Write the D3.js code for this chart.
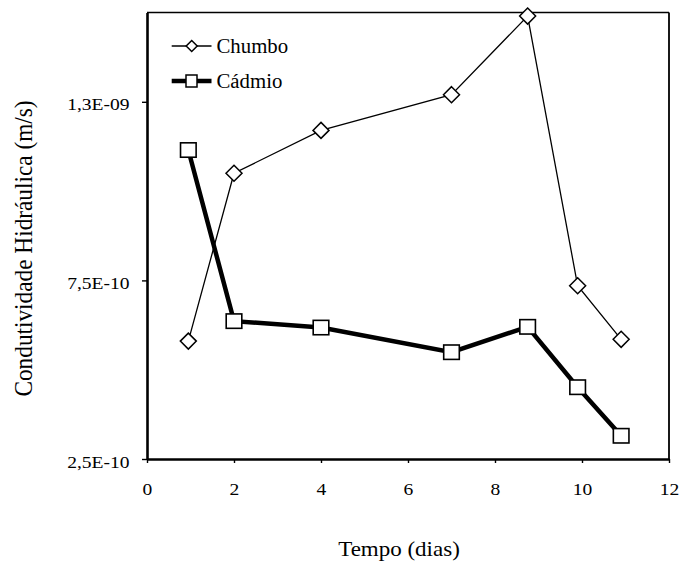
<!DOCTYPE html>
<html>
<head>
<meta charset="utf-8">
<script src="https://cdn.jsdelivr.net/npm/d3@7"></script>
<style>
  html, body { margin: 0; padding: 0; background: #fff; }
  svg { display: block; }
</style>
</head>
<body>
<svg id="chart" width="680" height="561"></svg>
<script>
// Tempo (dias) em que cada medição foi feita
const days = [0.95, 2, 4, 7, 8.75, 9.9, 10.9];
// Condutividade hidráulica (m/s)
const chumbo = [5.8e-10, 1.05e-9, 1.17e-9, 1.27e-9, 1.49e-9, 7.35e-10, 5.85e-10];
const cadmio = [1.115e-9, 6.36e-10, 6.18e-10, 5.49e-10, 6.2e-10, 4.51e-10, 3.15e-10];
const seriesNames = ["Chumbo", "Cádmio"];

const xTicks = [0, 2, 4, 6, 8, 10, 12];
const yTicks = [2.5e-10, 7.5e-10, 1.25e-9];
const yTickLabels = ["2,5E-10", "7,5E-10", "1,3E-09"];

const FONT = '"Liberation Serif", "Times New Roman", serif';
const svg = d3.select("#chart");
const plotLeft = 147, plotRight = 669, plotTop = 12.5, plotBottom = 459;
const sx = 1.15; // horizontal stretch of the lettering

const x = d3.scaleLinear().domain([0, 12]).range([plotLeft, plotRight]);
const y = d3.scaleLinear().domain([2.5e-10, 1.5e-9]).range([plotBottom, plotTop]);

function styleText(sel, size) {
  return sel.style("font-family", FONT).style("font-size", size + "px").style("fill", "#000");
}

// frame: thin top/right, heavy left/bottom
svg.append("line").attr("x1", plotLeft).attr("x2", plotRight).attr("y1", plotTop).attr("y2", plotTop)
  .attr("stroke", "#000").attr("stroke-width", 1.6);
svg.append("line").attr("x1", plotRight).attr("x2", plotRight).attr("y1", plotTop).attr("y2", plotBottom)
  .attr("stroke", "#000").attr("stroke-width", 1.8);

// y axis
const yAxis = svg.append("g").attr("transform", `translate(${plotLeft},0)`)
  .call(d3.axisLeft(y).tickValues(yTicks).tickSize(5).tickSizeOuter(0)
    .tickFormat((d, i) => yTickLabels[i]));
yAxis.select(".domain").attr("stroke-width", 2.6);
yAxis.selectAll(".tick line").attr("stroke-width", 1.4);
styleText(yAxis.selectAll(".tick text"), 17)
  .attr("x", null).attr("dy", null)
  .attr("text-anchor", "end")
  .attr("transform", `translate(-17.5,8) scale(${sx},1)`);

// x axis
const xAxis = svg.append("g").attr("transform", `translate(0,${plotBottom})`)
  .call(d3.axisBottom(x).tickValues(xTicks).tickSize(4).tickSizeOuter(0));
xAxis.select(".domain").attr("stroke-width", 2.6);
xAxis.selectAll(".tick line").attr("stroke-width", 1.4);
styleText(xAxis.selectAll(".tick text"), 17)
  .attr("y", null).attr("dy", null)
  .attr("text-anchor", "middle")
  .attr("transform", `translate(0,36) scale(${sx},1)`);

// axis titles
styleText(svg.append("text"), 20)
  .attr("transform", `translate(399,556) scale(${sx},1)`)
  .attr("text-anchor", "middle")
  .text("Tempo (dias)");
styleText(svg.append("text"), 23.3)
  .attr("transform", `translate(31.5,248.5) scale(1.12,1) rotate(-90)`)
  .attr("text-anchor", "middle")
  .text("Condutividade Hidráulica (m/s)");

const line = d3.line().x(d => x(d[0])).y(d => y(d[1]));
const chumboPts = days.map((d, i) => [d, chumbo[i]]);
const cadmioPts = days.map((d, i) => [d, cadmio[i]]);

// Chumbo: thin line with diamonds
svg.append("path").datum(chumboPts).attr("d", line)
  .attr("fill", "none").attr("stroke", "#000").attr("stroke-width", 1.3);
// Cádmio: heavy line with squares
svg.append("path").datum(cadmioPts).attr("d", line)
  .attr("fill", "none").attr("stroke", "#000").attr("stroke-width", 4.5)
  .attr("stroke-linejoin", "miter");

function diamond(cx, cy, w, h) {
  return `M${cx},${cy - h / 2}L${cx + w / 2},${cy}L${cx},${cy + h / 2}L${cx - w / 2},${cy}Z`;
}

svg.append("g").selectAll("path").data(chumboPts).join("path")
  .attr("d", d => diamond(x(d[0]), y(d[1]), 16, 16))
  .attr("fill", "#fff").attr("stroke", "#000").attr("stroke-width", 1.5);

svg.append("g").selectAll("rect").data(cadmioPts).join("rect")
  .attr("x", d => x(d[0]) - 7.8).attr("y", d => y(d[1]) - 7.2)
  .attr("width", 15.6).attr("height", 14.4)
  .attr("fill", "#fff").attr("stroke", "#000").attr("stroke-width", 1.6);

// legend
const legend = svg.append("g");
legend.append("line").attr("x1", 171.7).attr("x2", 211.5).attr("y1", 46).attr("y2", 46)
  .attr("stroke", "#000").attr("stroke-width", 1.3);
legend.append("path").attr("d", diamond(191.7, 46, 11, 11))
  .attr("fill", "#fff").attr("stroke", "#000").attr("stroke-width", 1.5);
styleText(legend.append("text"), 20.8).attr("x", 216.5).attr("y", 53.3).text(seriesNames[0]);

legend.append("line").attr("x1", 171.7).attr("x2", 211.5).attr("y1", 81).attr("y2", 81)
  .attr("stroke", "#000").attr("stroke-width", 4.5);
legend.append("rect").attr("x", 186).attr("y", 75).attr("width", 11).attr("height", 12)
  .attr("fill", "#fff").attr("stroke", "#000").attr("stroke-width", 1.5);
styleText(legend.append("text"), 20.8).attr("x", 216.5).attr("y", 88.3).text(seriesNames[1]);
</script>
</body>
</html>
